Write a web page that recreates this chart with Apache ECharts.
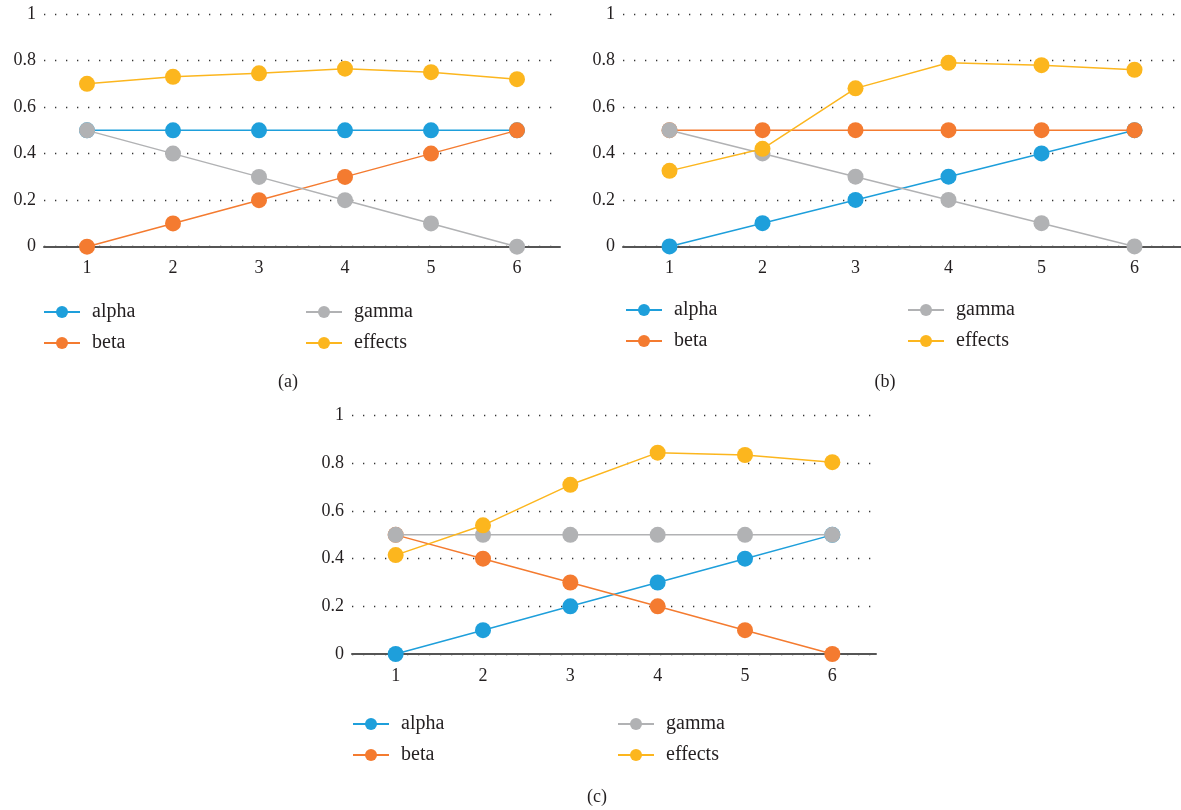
<!DOCTYPE html>
<html>
<head>
<meta charset="utf-8">
<script src="https://cdn.jsdelivr.net/npm/echarts@6/dist/echarts.min.js"></script>
<style>
html,body{margin:0;padding:0;background:#fff;}
#chart{width:1181px;height:810px;}
</style>
</head>
<body>
<div id="chart"></div>
<script>
// ---- data ----
const categories = ['1', '2', '3', '4', '5', '6'];
const yTicks = [0, 0.2, 0.4, 0.6, 0.8, 1];
const seriesNames = ['alpha', 'beta', 'gamma', 'effects'];
const panelLabels = ['(a)', '(b)', '(c)'];

const alphaA = [0.5, 0.5, 0.5, 0.5, 0.5, 0.5];
const betaA = [0, 0.1, 0.2, 0.3, 0.4, 0.5];
const gammaA = [0.5, 0.4, 0.3, 0.2, 0.1, 0];
const effectsA = [0.70, 0.73, 0.745, 0.765, 0.75, 0.72];

const alphaB = [0, 0.1, 0.2, 0.3, 0.4, 0.5];
const betaB = [0.5, 0.5, 0.5, 0.5, 0.5, 0.5];
const gammaB = [0.5, 0.4, 0.3, 0.2, 0.1, 0];
const effectsB = [0.325, 0.42, 0.68, 0.79, 0.78, 0.76];

const alphaC = [0, 0.1, 0.2, 0.3, 0.4, 0.5];
const betaC = [0.5, 0.4, 0.3, 0.2, 0.1, 0];
const gammaC = [0.5, 0.5, 0.5, 0.5, 0.5, 0.5];
const effectsC = [0.415, 0.54, 0.71, 0.845, 0.835, 0.805];

const panelData = [
  [alphaA, betaA, gammaA, effectsA],
  [alphaB, betaB, gammaB, effectsB],
  [alphaC, betaC, gammaC, effectsC]
];

// ---- style ----
const colors = { alpha: '#1e9fdb', beta: '#f47b30', gamma: '#b1b2b4', effects: '#fcb61e' };
const FONT = 'Liberation Serif';
const TXT = '#231f20';

const grids = [
  { left: 44, top: 14, width: 516, height: 232.7 },
  { left: 623, top: 14, width: 558, height: 232.4 },
  { left: 352, top: 415.7, width: 524, height: 238.3 }
];
const legendPos = [
  { c1: 43, c2: 305, top: 302 },
  { c1: 625, c2: 907, top: 300 },
  { c1: 352, c2: 617, top: 714 }
];
const captionPos = [[288, 382], [885, 382], [597, 797]];

const xAxes = [], yAxes = [], series = [], legends = [], graphics = [];
grids.forEach((g, i) => {
  xAxes.push({
    type: 'category', gridIndex: i, data: categories, boundaryGap: true,
    axisLine: { show: true, lineStyle: { color: '#555', width: 2 } },
    axisTick: { show: false },
    axisLabel: { color: TXT, fontFamily: FONT, fontSize: 18, margin: 13 },
    splitLine: { show: false }
  });
  yAxes.push({
    type: 'value', gridIndex: i, min: yTicks[0], max: yTicks[yTicks.length - 1], interval: 0.2,
    axisLine: { show: false }, axisTick: { show: false },
    axisLabel: { color: TXT, fontFamily: FONT, fontSize: 18, margin: 8 },
    splitLine: { show: true, lineStyle: { color: '#333', width: 1.3, type: [1.3, 9.7] } }
  });
  seriesNames.forEach((name, k) => {
    series.push({
      type: 'line', name: name, xAxisIndex: i, yAxisIndex: i,
      data: panelData[i][k],
      symbol: 'circle', symbolSize: 16,
      itemStyle: { color: colors[name] },
      lineStyle: { color: colors[name], width: 1.5 },
      z: 2 + k
    });
  });
  const lp = legendPos[i];
  const legendCommon = {
    orient: 'vertical', padding: 0, itemGap: 11,
    itemWidth: 36, itemHeight: 15,
    textStyle: { color: TXT, fontFamily: FONT, fontSize: 20, lineHeight: 20, padding: [0, 0, 0, 7] },
    selectedMode: false
  };
  legends.push(Object.assign({}, legendCommon, { left: lp.c1, top: lp.top, data: [seriesNames[0], seriesNames[1]] }));
  legends.push(Object.assign({}, legendCommon, { left: lp.c2, top: lp.top, data: [seriesNames[2], seriesNames[3]] }));
  graphics.push({
    type: 'text', x: captionPos[i][0], y: captionPos[i][1],
    style: { text: panelLabels[i], fill: TXT, font: '18px "' + FONT + '"', align: 'center', verticalAlign: 'middle' }
  });
});

const chart = echarts.init(document.getElementById('chart'), null, { renderer: 'canvas' });
chart.setOption({
  animation: false,
  backgroundColor: '#fff',
  grid: grids,
  xAxis: xAxes,
  yAxis: yAxes,
  legend: legends,
  series: series,
  graphic: graphics
});
</script>
</body>
</html>
